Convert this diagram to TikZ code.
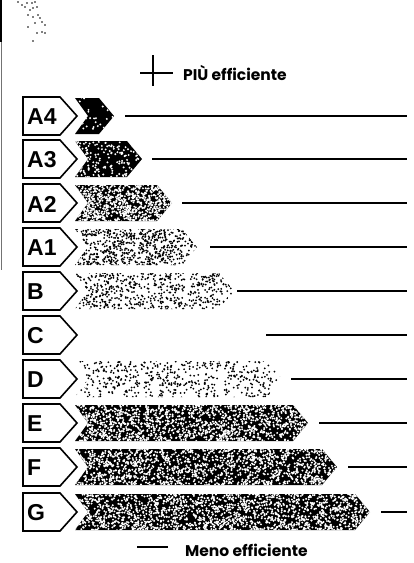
\documentclass[tikz,border=0pt]{standalone}
\usepackage{fontspec}
\setmainfont{Liberation Sans}
\newfontfamily\legendfont{Poppins}
\newcommand\energyrow[9]{%
  % #1 name, #2 label, #3 y, #4 tip x, #5 base fill, #6 black dots, #7 white dots, #8 line start, #9 line width
  \draw[lblbox] (23,#3-19) -- (60,#3-19) -- (77,#3) -- (60,#3+19) -- (23,#3+19) -- cycle;
  \node[lbltext] (lab#1) at (27,#3+1) {#2};
  \ifnum#4>80
  \begin{scope}
    \clip (75,#3-18) -- ({#4-15},#3-18) -- (#4,#3) -- ({#4-15},#3+18) -- (75,#3+18) -- (88,#3) -- cycle;
    \fill[#5] (70,#3-20) rectangle (#4+2,#3+20);
    \foreach \k in {1,...,#6}{\fill[black] ({75+rnd*(#4-75)},{#3-18.5+37*rnd}) circle (1);}
    \foreach \k in {1,...,#7}{\fill[white] ({75+rnd*(#4-75)},{#3-18.5+37*rnd}) circle (1.08);}
  \end{scope}
  \fi
  \coordinate (ls#1) at (#8,#3);
  \coordinate (le#1) at (407,#3);
  \draw[line width=#9] (ls#1) -- (le#1);
}
\begin{document}
\begin{tikzpicture}[x=1pt,y=-1pt,
  lblbox/.style={draw=black,line width=1.6pt,line join=miter,fill=white},
  lbltext/.style={anchor=west,inner sep=0pt,font=\fontsize{23}{23}\selectfont\bfseries},
  legtext/.style={anchor=west,inner sep=0pt,font=\legendfont\fontsize{15.5}{17}\selectfont\bfseries}]
\useasboundingbox (0,0) rectangle (414,563);
\pgfmathsetseed{4242}
% scan artefacts at the left edge
\draw[line width=1.5pt] (1,0) -- (1,42);
\draw[black!55,line width=0.8pt] (1,42) -- (1,270);
\foreach \px/\py in {18/2,22/5,27/3,32/3,35/2,25/7,30/10,33/8,37/7,28/15,33/17,38/15,40/18,35/23,42/22,45/25,28/27,37/33,42/32,45/33,33/41}
  {\fill[black] (\px,\py) circle (0.8);}
% top legend
\coordinate (th1) at (140,73); \coordinate (th2) at (173,73);
\coordinate (tv1) at (153,55); \coordinate (tv2) at (153,86);
\draw[line width=1.3pt] (th1) -- (th2);
\draw[line width=1.3pt] (tv1) -- (tv2);
\node[legtext] (more) at (183,73) {PIÙ efficiente};
% rows
\energyrow{a4}{A4}{116}{114}{black}{0}{40}{125}{1.4pt}
\energyrow{a3}{A3}{159}{142}{black}{0}{180}{152}{2pt}
\energyrow{a2}{A2}{203}{172}{black}{0}{860}{182}{1.4pt}
\energyrow{a1}{A1}{247}{197}{white}{680}{0}{210}{1.6pt}
\energyrow{b}{B}{291}{234}{white}{580}{0}{237}{1.4pt}
\energyrow{c}{C}{335}{75}{white}{0}{0}{266}{1.4pt}
\energyrow{d}{D}{379}{282}{white}{520}{0}{291}{2.2pt}
\energyrow{e}{E}{423}{308}{black}{0}{1450}{319}{1.4pt}
\energyrow{f}{F}{467}{337}{black}{0}{1500}{348}{1.4pt}
\energyrow{g}{G}{512}{370}{black}{0}{1750}{381}{1.4pt}
% bottom legend
\coordinate (bh1) at (137,547); \coordinate (bh2) at (168,547);
\draw[line width=2.4pt] (bh1) -- (bh2);
\node[legtext] (less) at (185,550) {Meno efficiente};
\end{tikzpicture}
\end{document}
